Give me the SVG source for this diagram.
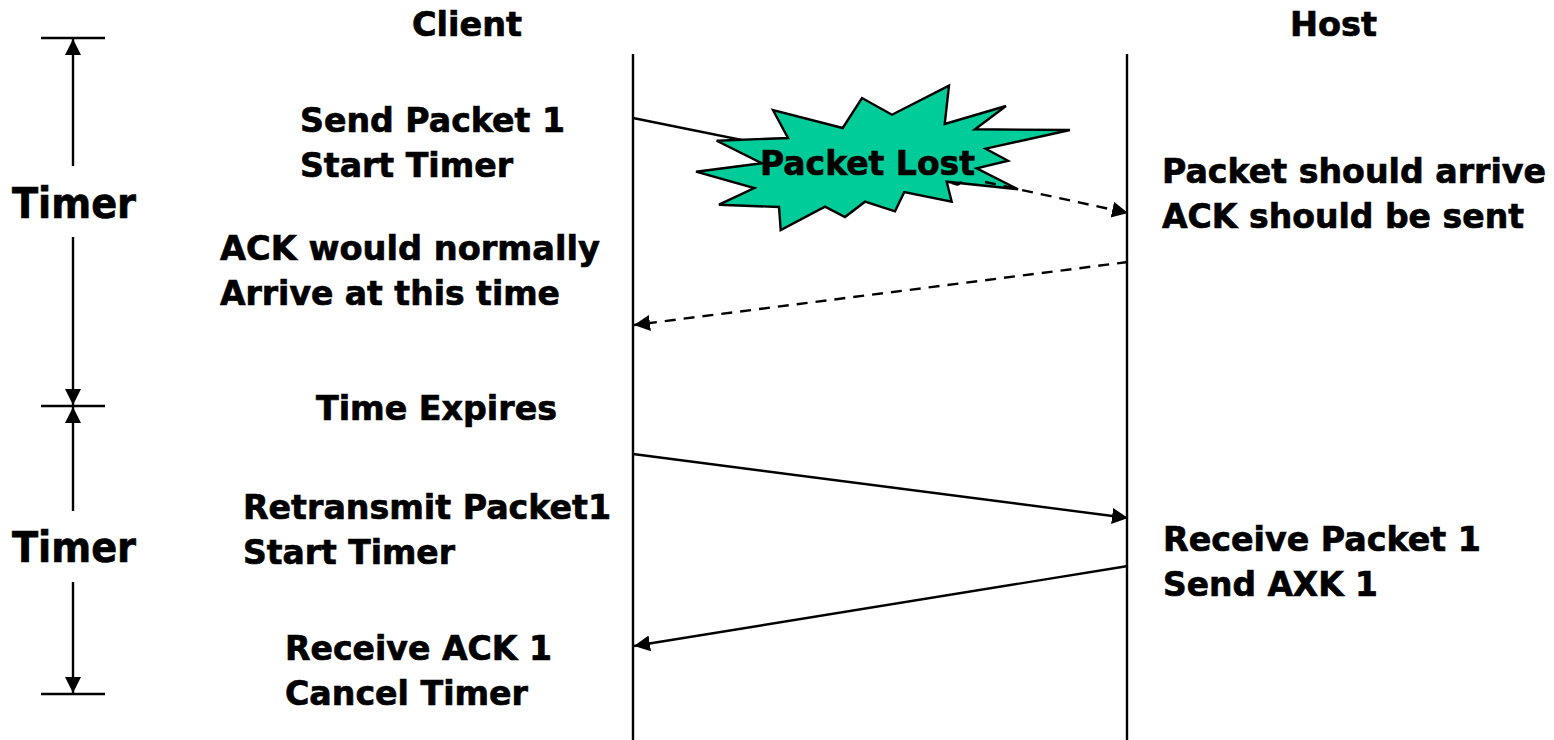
<svg xmlns="http://www.w3.org/2000/svg" width="1554" height="740" viewBox="0 0 1554 740">
<style>
text{font-family:"DejaVu Sans","Liberation Sans",sans-serif;font-weight:700;fill:#000;stroke:#000;stroke-width:.7px;font-size:34px}
.l{stroke:#000;stroke-width:2.4;fill:none}
.d{stroke:#000;stroke-width:2.4;fill:none;stroke-dasharray:11 8}
</style>
<defs>
<marker id="a" markerUnits="userSpaceOnUse" markerWidth="18" markerHeight="18" refX="16" refY="8" orient="auto"><path d="M0 0L16 8L0 16Z" fill="#000"/></marker>
</defs>
<rect width="1554" height="740" fill="#fff"/>
<g id="connectors">
<path class="l" d="M633 54V740M1127 54V740"/>
<path class="l" d="M41 38H105M41 406H105M41 694H105"/>
<path class="l" d="M73 166V39" marker-end="url(#a)"/>
<path class="l" d="M73 237V405" marker-end="url(#a)"/>
<path class="l" d="M73 511V407" marker-end="url(#a)"/>
<path class="l" d="M73 582V693" marker-end="url(#a)"/>
<path class="l" d="M633 118L960 184"/>
<path class="d" d="M985 182L1128 213" marker-end="url(#a)"/>
<path class="d" d="M1128 262L634 325" marker-end="url(#a)"/>
<path class="l" d="M633 454L1128 518" marker-end="url(#a)"/>
<path class="l" d="M1128 566L634 646" marker-end="url(#a)"/>
</g>
<g id="burst">
<polygon points="716.7,140.7 788,138 773,110 842.7,128 862,98 892,114.7 949,85.7 944.7,124 1006,106 975,129.3 1070,130 985.7,148.7 1008,160.7 976.7,168.3 1018,189.3 946.7,181.7 951.7,201.7 904.3,192 895,211.3 865,201.7 845,217 825,206.7 780.7,230 779,207 719,204.7 754.3,188 696,171.7 761.7,163.3" fill="#00CC99" stroke="#000" stroke-width="2.4"/>
<path d="M951 184L962 181L958 186Z" fill="#000"/>
<path class="d" d="M985 182L1018 189"/>
<text x="760" y="175" textLength="215" lengthAdjust="spacingAndGlyphs">Packet Lost</text>
</g>
<g id="client"><text x="412" y="36" textLength="110" lengthAdjust="spacingAndGlyphs">Client</text></g>
<g id="host"><text x="1290" y="36" textLength="87" lengthAdjust="spacingAndGlyphs">Host</text></g>
<g id="timer1"><text x="12" y="218" style="font-size:42px" textLength="124" lengthAdjust="spacingAndGlyphs">Timer</text></g>
<g id="timer2"><text x="12" y="562" style="font-size:42px" textLength="124" lengthAdjust="spacingAndGlyphs">Timer</text></g>
<g id="send"><text x="300" y="132" textLength="265" lengthAdjust="spacingAndGlyphs">Send Packet 1</text><text x="300" y="177" textLength="213" lengthAdjust="spacingAndGlyphs">Start Timer</text></g>
<g id="ack"><text x="220" y="260" textLength="380" lengthAdjust="spacingAndGlyphs">ACK would normally</text><text x="220" y="305" textLength="340" lengthAdjust="spacingAndGlyphs">Arrive at this time</text></g>
<g id="expires"><text x="316" y="420" textLength="241" lengthAdjust="spacingAndGlyphs">Time Expires</text></g>
<g id="retransmit"><text x="243" y="519" textLength="368" lengthAdjust="spacingAndGlyphs">Retransmit Packet1</text><text x="243" y="564" textLength="212" lengthAdjust="spacingAndGlyphs">Start Timer</text></g>
<g id="receiveack"><text x="285" y="660" textLength="267" lengthAdjust="spacingAndGlyphs">Receive ACK 1</text><text x="285" y="705" textLength="243" lengthAdjust="spacingAndGlyphs">Cancel Timer</text></g>
<g id="should"><text x="1162" y="183" textLength="384" lengthAdjust="spacingAndGlyphs">Packet should arrive</text><text x="1162" y="228" textLength="362" lengthAdjust="spacingAndGlyphs">ACK should be sent</text></g>
<g id="receive"><text x="1163" y="551" textLength="318" lengthAdjust="spacingAndGlyphs">Receive Packet 1</text><text x="1163" y="596" textLength="215" lengthAdjust="spacingAndGlyphs">Send AXK 1</text></g>
</svg>
